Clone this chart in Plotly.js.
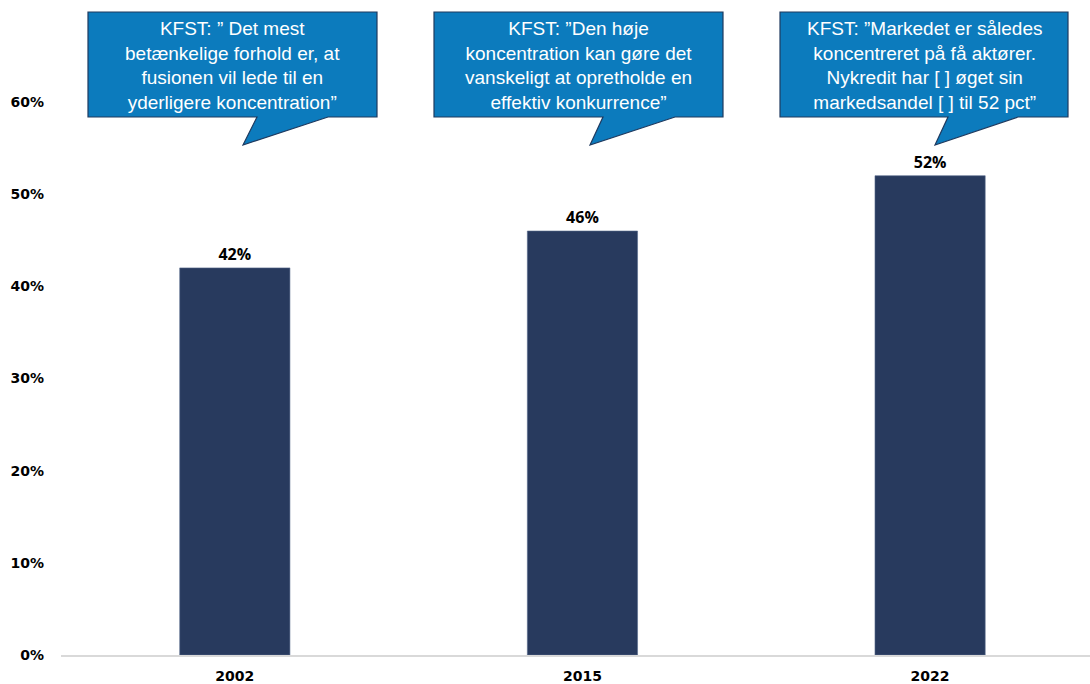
<!DOCTYPE html>
<html>
<head>
<meta charset="utf-8">
<script src="https://cdn.plot.ly/plotly-3.0.1.min.js"></script>
<style>html,body{margin:0;padding:0;background:#fff;}#chart{width:1090px;height:684px;}</style>
</head>
<body>
<div id="chart"></div>
<script>
// Data
const years = ['2002', '2015', '2022'];
const shares = [0.42, 0.46, 0.52];
const yTicks = [0, 0.1, 0.2, 0.3, 0.4, 0.5, 0.6];
const quotes = [
  'KFST: ” Det mest<br>betænkelige forhold er, at<br>fusionen vil lede til en<br>yderligere koncentration”',
  'KFST: ”Den høje<br>koncentration kan gøre det<br>vanskeligt at opretholde en<br>effektiv konkurrence”',
  'KFST: ”Markedet er således<br>koncentreret på få aktører.<br>Nykredit har [ ] øget sin<br>markedsandel [ ] til 52 pct”'
];

// Layout geometry (pixels)
const W = 1090, H = 684;
const M = {l: 61, r: 0, t: 102, b: 29};
const pw = W - M.l - M.r, ph = H - M.t - M.b;
const px = x => (x - M.l) / pw;
const py = y => (H - M.b - y) / ph;

// Callout boxes in pixel space: [left, right, top, bottom, tailLeft, tailRight, apexX, apexY]
const boxes = [
  [88, 377, 12, 117, 257, 328, 243, 145],
  [434, 723, 12, 117, 603, 675, 590, 145],
  [780, 1068, 12, 117, 948, 1018, 935, 145]
];

const shapes = boxes.map(b => {
  const [l, r, t, bt, tl, tr, ax, ay] = b;
  const p = (x, y) => px(x).toFixed(5) + ',' + py(y).toFixed(5);
  return {
    type: 'path', xref: 'paper', yref: 'paper',
    path: 'M' + p(l, t) + ' L' + p(r, t) + ' L' + p(r, bt) + ' L' + p(tr, bt) +
          ' L' + p(ax, ay) + ' L' + p(tl, bt) + ' L' + p(l, bt) + ' Z',
    fillcolor: '#0c7bbd',
    line: {color: '#1f3a5f', width: 1.2}
  };
});

const annotations = boxes.map((b, i) => ({
  xref: 'paper', yref: 'paper',
  x: px((b[0] + b[1]) / 2), y: py((b[2] + b[3]) / 2 + 1),
  xanchor: 'center', yanchor: 'middle',
  text: quotes[i], showarrow: false, align: 'center',
  font: {family: 'Liberation Sans, Arial, sans-serif', size: 19, color: '#ffffff'}
}));

const trace = {
  type: 'bar', x: years, y: shares,
  width: 0.317,
  marker: {color: '#283a5e', line: {color: '#56688a', width: 0.6}},
  texttemplate: '%{y:.0%}', textposition: 'outside', cliponaxis: false,
  textfont: {family: 'Open Sans, Liberation Sans, sans-serif', size: 16, color: '#000', weight: 700},
  hoverinfo: 'skip'
};

const layout = {
  width: W, height: H,
  margin: M,
  paper_bgcolor: '#ffffff', plot_bgcolor: '#ffffff',
  showlegend: false,
  bargap: 0,
  xaxis: {
    type: 'category', range: [-0.5, 2.46],
    showline: true, linecolor: '#d9d9d9', linewidth: 1.5,
    showgrid: false, zeroline: false, ticks: '',
    ticklabelstandoff: 8,
    tickfont: {family: 'DejaVu Sans, Verdana, sans-serif', size: 14, color: '#000', weight: 700}
  },
  yaxis: {
    range: [0, 0.6], tickvals: yTicks, tickformat: '.0%',
    showline: false, showgrid: false, zeroline: false, ticks: '',
    ticklabelstandoff: 16,
    tickfont: {family: 'DejaVu Sans, Verdana, sans-serif', size: 14, color: '#000', weight: 700}
  },
  shapes: shapes,
  annotations: annotations
};

Plotly.newPlot('chart', [trace], layout, {displayModeBar: false, staticPlot: true});
</script>
</body>
</html>
